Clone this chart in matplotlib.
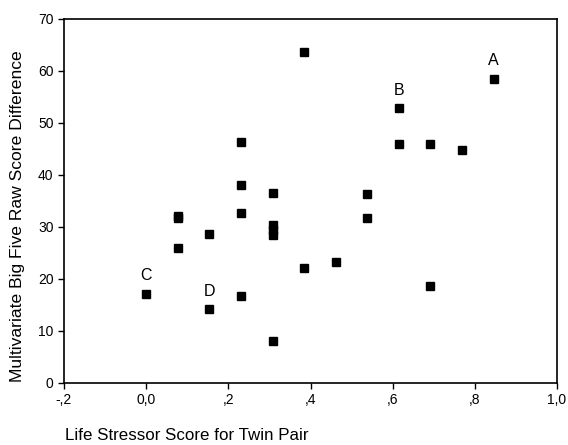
import matplotlib

matplotlib.use("Agg")
import matplotlib.pyplot as plt

plt.rcParams["font.family"] = ["Liberation Sans", "DejaVu Sans"]

# life stressor score per twin pair, and Big Five raw score difference
stressor = [0.846, 0.615, 0.615, 0.692, 0.769, 0.385, 0.231, 0.231, 0.231,
            0.308, 0.538, 0.077, 0.077, 0.154, 0.308, 0.308, 0.308, 0.077,
            0.000, 0.154, 0.231, 0.308, 0.385, 0.462, 0.538, 0.692]
big_five = [58.5, 52.8, 46.0, 46.0, 44.8, 63.7, 46.4, 38.1, 32.6,
            36.5, 36.3, 32.2, 31.8, 28.6, 30.4, 29.4, 28.4, 25.9,
            17.2, 14.2, 16.8, 8.1, 22.2, 23.2, 31.8, 18.7]

# labelled cases
case_names = ["A", "B", "C", "D"]
case_x = [0.846, 0.615, 0.000, 0.154]
case_y = [58.5, 52.8, 17.2, 14.2]

x_ticks = [-0.2, 0.0, 0.2, 0.4, 0.6, 0.8, 1.0]
x_tick_labels = ["-,2", "0,0", ",2", ",4", ",6", ",8", "1,0"]
y_ticks = [0, 10, 20, 30, 40, 50, 60, 70]

fig = plt.figure(figsize=(5.68, 4.45), dpi=100)
ax = fig.add_axes([64 / 568, 62 / 445, 493 / 568, 364 / 445])

ax.plot(stressor, big_five, linestyle="none", marker="s", markersize=6,
        color="black")
for name, cx, cy in zip(case_names, case_x, case_y):
    ax.text(cx, cy + 2.0, name, ha="center", va="bottom", fontsize=11.5)

ax.set_xlim(-0.2, 1.0)
ax.set_ylim(0, 70)
ax.set_xticks(x_ticks)
ax.set_xticklabels(x_tick_labels)
ax.set_yticks(y_ticks)
ax.tick_params(labelsize=10, length=4, width=1, direction="out")
for spine in ax.spines.values():
    spine.set_linewidth(1.2)

fig.text(18 / 568, 1 - 216 / 445, "Multivariate Big Five Raw Score Difference",
         fontsize=12.6, rotation=90, ha="center", va="center")
fig.text(65 / 568, 1 - 435 / 445, "Life Stressor Score for Twin Pair",
         fontsize=12.2, ha="left", va="center")

fig.savefig("out.png", dpi=100)
plt.close(fig)
